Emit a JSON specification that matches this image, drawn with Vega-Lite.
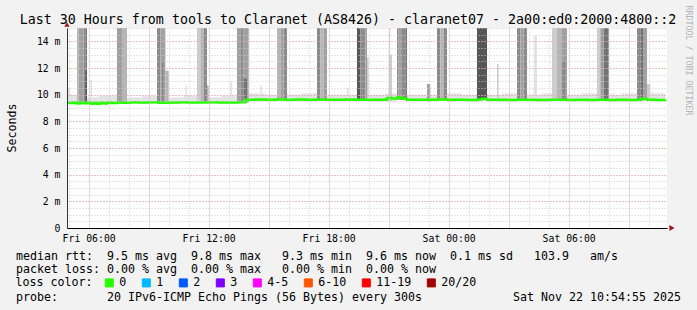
{
  "$schema": "https://vega.github.io/schema/vega-lite/v6.json",
  "width": 600,
  "height": 200,
  "autosize": {"type": "none"},
  "padding": {"left": 67, "top": 28, "right": 30, "bottom": 82},
  "background": "#f2f2f2",
  "config": {
    "view": {"stroke": null, "fill": "#ffffff"},
    "font": "DejaVu Sans Mono",
    "axis": {"labelFont": "DejaVu Sans Mono", "titleFont": "DejaVu Sans Mono", "labelColor": "#000000", "titleColor": "#000000", "titleFontWeight": "normal", "labelFontSize": 9.8}
  },
  "resolve": {"axis": {"x": "independent", "y": "independent"}},
  "datasets": {
    "smoke": [
      {"t0": "2025-11-21T04:55Z", "t1": "2025-11-21T05:25Z", "lo": 0.0093, "hi": 0.0100, "level": 1},
      {"t0": "2025-11-21T05:55Z", "t1": "2025-11-21T06:30Z", "lo": 0.0093, "hi": 0.0098, "level": 1},
      {"t0": "2025-11-21T06:30Z", "t1": "2025-11-21T07:25Z", "lo": 0.0093, "hi": 0.0099, "level": 1},
      {"t0": "2025-11-21T07:55Z", "t1": "2025-11-21T08:40Z", "lo": 0.0093, "hi": 0.0098, "level": 1},
      {"t0": "2025-11-21T08:40Z", "t1": "2025-11-21T09:25Z", "lo": 0.0093, "hi": 0.0099, "level": 1},
      {"t0": "2025-11-21T10:00Z", "t1": "2025-11-21T10:45Z", "lo": 0.0093, "hi": 0.0098, "level": 1},
      {"t0": "2025-11-21T10:45Z", "t1": "2025-11-21T11:25Z", "lo": 0.0093, "hi": 0.0099, "level": 1},
      {"t0": "2025-11-21T12:00Z", "t1": "2025-11-21T12:40Z", "lo": 0.0093, "hi": 0.0098, "level": 1},
      {"t0": "2025-11-21T12:40Z", "t1": "2025-11-21T13:25Z", "lo": 0.0093, "hi": 0.0099, "level": 1},
      {"t0": "2025-11-21T14:00Z", "t1": "2025-11-21T14:50Z", "lo": 0.0095, "hi": 0.0101, "level": 1},
      {"t0": "2025-11-21T14:50Z", "t1": "2025-11-21T15:25Z", "lo": 0.0095, "hi": 0.0100, "level": 1},
      {"t0": "2025-11-21T15:55Z", "t1": "2025-11-21T16:40Z", "lo": 0.0095, "hi": 0.0100, "level": 1},
      {"t0": "2025-11-21T16:40Z", "t1": "2025-11-21T17:25Z", "lo": 0.0095, "hi": 0.0101, "level": 1},
      {"t0": "2025-11-21T17:55Z", "t1": "2025-11-21T18:40Z", "lo": 0.0095, "hi": 0.0100, "level": 1},
      {"t0": "2025-11-21T18:40Z", "t1": "2025-11-21T19:25Z", "lo": 0.0095, "hi": 0.0100, "level": 1},
      {"t0": "2025-11-21T20:00Z", "t1": "2025-11-21T20:50Z", "lo": 0.0095, "hi": 0.0100, "level": 1},
      {"t0": "2025-11-21T20:50Z", "t1": "2025-11-21T21:25Z", "lo": 0.0095, "hi": 0.0101, "level": 1},
      {"t0": "2025-11-21T21:55Z", "t1": "2025-11-21T22:40Z", "lo": 0.0095, "hi": 0.0100, "level": 1},
      {"t0": "2025-11-21T22:40Z", "t1": "2025-11-21T23:25Z", "lo": 0.0095, "hi": 0.0100, "level": 1},
      {"t0": "2025-11-21T23:55Z", "t1": "2025-11-22T00:40Z", "lo": 0.0095, "hi": 0.0101, "level": 1},
      {"t0": "2025-11-22T00:40Z", "t1": "2025-11-22T01:25Z", "lo": 0.0095, "hi": 0.0100, "level": 1},
      {"t0": "2025-11-22T01:55Z", "t1": "2025-11-22T02:40Z", "lo": 0.0095, "hi": 0.0100, "level": 1},
      {"t0": "2025-11-22T02:40Z", "t1": "2025-11-22T03:25Z", "lo": 0.0095, "hi": 0.0101, "level": 1},
      {"t0": "2025-11-22T03:55Z", "t1": "2025-11-22T04:40Z", "lo": 0.0095, "hi": 0.0100, "level": 1},
      {"t0": "2025-11-22T04:40Z", "t1": "2025-11-22T05:10Z", "lo": 0.0095, "hi": 0.0101, "level": 1},
      {"t0": "2025-11-22T05:55Z", "t1": "2025-11-22T06:40Z", "lo": 0.0095, "hi": 0.0100, "level": 1},
      {"t0": "2025-11-22T06:40Z", "t1": "2025-11-22T07:25Z", "lo": 0.0095, "hi": 0.0101, "level": 1},
      {"t0": "2025-11-22T08:00Z", "t1": "2025-11-22T08:40Z", "lo": 0.0095, "hi": 0.0100, "level": 1},
      {"t0": "2025-11-22T08:40Z", "t1": "2025-11-22T09:25Z", "lo": 0.0095, "hi": 0.0101, "level": 1},
      {"t0": "2025-11-22T10:05Z", "t1": "2025-11-22T10:50Z", "lo": 0.0095, "hi": 0.0101, "level": 1},
      {"t0": "2025-11-21T04:55Z", "t1": "2025-11-21T05:05Z", "lo": 0.0093, "hi": 0.0105, "level": 1},
      {"t0": "2025-11-21T06:05Z", "t1": "2025-11-21T06:10Z", "lo": 0.0093, "hi": 0.0111, "level": 1},
      {"t0": "2025-11-21T10:50Z", "t1": "2025-11-21T10:55Z", "lo": 0.0093, "hi": 0.0107, "level": 1},
      {"t0": "2025-11-21T13:05Z", "t1": "2025-11-21T13:10Z", "lo": 0.0093, "hi": 0.0110, "level": 1},
      {"t0": "2025-11-21T14:35Z", "t1": "2025-11-21T14:40Z", "lo": 0.0095, "hi": 0.0107, "level": 1},
      {"t0": "2025-11-21T18:55Z", "t1": "2025-11-21T19:00Z", "lo": 0.0095, "hi": 0.0105, "level": 1},
      {"t0": "2025-11-21T19:55Z", "t1": "2025-11-21T20:00Z", "lo": 0.0095, "hi": 0.0128, "level": 2},
      {"t0": "2025-11-21T21:00Z", "t1": "2025-11-21T21:10Z", "lo": 0.0095, "hi": 0.0130, "level": 2},
      {"t0": "2025-11-21T21:00Z", "t1": "2025-11-21T21:05Z", "lo": 0.0130, "hi": 0.0150, "level": 1},
      {"t0": "2025-11-21T22:55Z", "t1": "2025-11-21T23:05Z", "lo": 0.0095, "hi": 0.0108, "level": 4},
      {"t0": "2025-11-22T02:25Z", "t1": "2025-11-22T02:30Z", "lo": 0.0095, "hi": 0.0123, "level": 2},
      {"t0": "2025-11-22T04:15Z", "t1": "2025-11-22T04:25Z", "lo": 0.0095, "hi": 0.0144, "level": 1},
      {"t0": "2025-11-22T06:50Z", "t1": "2025-11-22T06:55Z", "lo": 0.0095, "hi": 0.0101, "level": 1},
      {"t0": "2025-11-22T08:10Z", "t1": "2025-11-22T08:15Z", "lo": 0.0095, "hi": 0.0101, "level": 1},
      {"t0": "2025-11-22T10:10Z", "t1": "2025-11-22T10:15Z", "lo": 0.0095, "hi": 0.0102, "level": 1},
      {"t0": "2025-11-21T05:25Z", "t1": "2025-11-21T05:30Z", "lo": 0.0094, "hi": 0.015, "level": 3},
      {"t0": "2025-11-21T05:30Z", "t1": "2025-11-21T05:45Z", "lo": 0.0094, "hi": 0.015, "level": 4},
      {"t0": "2025-11-21T05:45Z", "t1": "2025-11-21T05:50Z", "lo": 0.0094, "hi": 0.015, "level": 5},
      {"t0": "2025-11-21T05:50Z", "t1": "2025-11-21T05:55Z", "lo": 0.0094, "hi": 0.015, "level": 6},
      {"t0": "2025-11-21T05:50Z", "t1": "2025-11-21T05:55Z", "lo": 0.0094, "hi": 0.0118, "level": 7},
      {"t0": "2025-11-21T07:25Z", "t1": "2025-11-21T07:40Z", "lo": 0.0094, "hi": 0.015, "level": 4},
      {"t0": "2025-11-21T07:40Z", "t1": "2025-11-21T07:55Z", "lo": 0.0094, "hi": 0.015, "level": 3},
      {"t0": "2025-11-21T09:25Z", "t1": "2025-11-21T09:35Z", "lo": 0.0094, "hi": 0.015, "level": 5},
      {"t0": "2025-11-21T09:35Z", "t1": "2025-11-21T09:50Z", "lo": 0.0094, "hi": 0.015, "level": 4},
      {"t0": "2025-11-21T09:40Z", "t1": "2025-11-21T09:45Z", "lo": 0.0094, "hi": 0.0125, "level": 5},
      {"t0": "2025-11-21T09:50Z", "t1": "2025-11-21T10:00Z", "lo": 0.0094, "hi": 0.0118, "level": 3},
      {"t0": "2025-11-21T11:25Z", "t1": "2025-11-21T11:35Z", "lo": 0.0094, "hi": 0.015, "level": 2},
      {"t0": "2025-11-21T11:35Z", "t1": "2025-11-21T11:45Z", "lo": 0.0094, "hi": 0.015, "level": 3},
      {"t0": "2025-11-21T11:45Z", "t1": "2025-11-21T11:55Z", "lo": 0.0094, "hi": 0.015, "level": 5},
      {"t0": "2025-11-21T11:55Z", "t1": "2025-11-21T12:00Z", "lo": 0.0094, "hi": 0.0107, "level": 3},
      {"t0": "2025-11-21T13:25Z", "t1": "2025-11-21T13:35Z", "lo": 0.0094, "hi": 0.015, "level": 4},
      {"t0": "2025-11-21T13:35Z", "t1": "2025-11-21T13:45Z", "lo": 0.0094, "hi": 0.015, "level": 5},
      {"t0": "2025-11-21T13:45Z", "t1": "2025-11-21T14:00Z", "lo": 0.0094, "hi": 0.015, "level": 4},
      {"t0": "2025-11-21T13:45Z", "t1": "2025-11-21T13:55Z", "lo": 0.0096, "hi": 0.0112, "level": 6},
      {"t0": "2025-11-21T15:25Z", "t1": "2025-11-21T15:35Z", "lo": 0.0096, "hi": 0.015, "level": 3},
      {"t0": "2025-11-21T15:35Z", "t1": "2025-11-21T15:45Z", "lo": 0.0096, "hi": 0.015, "level": 4},
      {"t0": "2025-11-21T15:45Z", "t1": "2025-11-21T15:55Z", "lo": 0.0096, "hi": 0.015, "level": 5},
      {"t0": "2025-11-21T17:25Z", "t1": "2025-11-21T17:35Z", "lo": 0.0096, "hi": 0.015, "level": 5},
      {"t0": "2025-11-21T17:35Z", "t1": "2025-11-21T17:45Z", "lo": 0.0096, "hi": 0.015, "level": 3},
      {"t0": "2025-11-21T17:45Z", "t1": "2025-11-21T17:55Z", "lo": 0.0096, "hi": 0.015, "level": 4},
      {"t0": "2025-11-21T19:25Z", "t1": "2025-11-21T19:35Z", "lo": 0.0096, "hi": 0.015, "level": 7},
      {"t0": "2025-11-21T19:35Z", "t1": "2025-11-21T19:50Z", "lo": 0.0096, "hi": 0.015, "level": 5},
      {"t0": "2025-11-21T19:50Z", "t1": "2025-11-21T19:55Z", "lo": 0.0096, "hi": 0.015, "level": 4},
      {"t0": "2025-11-21T21:25Z", "t1": "2025-11-21T21:30Z", "lo": 0.0096, "hi": 0.015, "level": 5},
      {"t0": "2025-11-21T21:30Z", "t1": "2025-11-21T21:40Z", "lo": 0.0096, "hi": 0.015, "level": 4},
      {"t0": "2025-11-21T21:40Z", "t1": "2025-11-21T21:50Z", "lo": 0.0096, "hi": 0.015, "level": 5},
      {"t0": "2025-11-21T21:50Z", "t1": "2025-11-21T21:55Z", "lo": 0.0096, "hi": 0.015, "level": 6},
      {"t0": "2025-11-21T23:25Z", "t1": "2025-11-21T23:35Z", "lo": 0.0096, "hi": 0.015, "level": 5},
      {"t0": "2025-11-21T23:35Z", "t1": "2025-11-21T23:45Z", "lo": 0.0096, "hi": 0.015, "level": 3},
      {"t0": "2025-11-21T23:45Z", "t1": "2025-11-21T23:55Z", "lo": 0.0096, "hi": 0.015, "level": 5},
      {"t0": "2025-11-22T01:25Z", "t1": "2025-11-22T01:55Z", "lo": 0.0096, "hi": 0.015, "level": 7},
      {"t0": "2025-11-22T03:25Z", "t1": "2025-11-22T03:35Z", "lo": 0.0096, "hi": 0.015, "level": 5},
      {"t0": "2025-11-22T03:35Z", "t1": "2025-11-22T03:45Z", "lo": 0.0096, "hi": 0.015, "level": 4},
      {"t0": "2025-11-22T03:45Z", "t1": "2025-11-22T03:55Z", "lo": 0.0096, "hi": 0.015, "level": 5},
      {"t0": "2025-11-22T05:10Z", "t1": "2025-11-22T05:25Z", "lo": 0.0096, "hi": 0.015, "level": 2},
      {"t0": "2025-11-22T05:25Z", "t1": "2025-11-22T05:40Z", "lo": 0.0096, "hi": 0.015, "level": 3},
      {"t0": "2025-11-22T05:40Z", "t1": "2025-11-22T05:55Z", "lo": 0.0096, "hi": 0.015, "level": 4},
      {"t0": "2025-11-22T05:40Z", "t1": "2025-11-22T05:50Z", "lo": 0.0096, "hi": 0.0125, "level": 5},
      {"t0": "2025-11-22T07:25Z", "t1": "2025-11-22T07:35Z", "lo": 0.0096, "hi": 0.015, "level": 2},
      {"t0": "2025-11-22T07:35Z", "t1": "2025-11-22T07:45Z", "lo": 0.0096, "hi": 0.015, "level": 4},
      {"t0": "2025-11-22T07:45Z", "t1": "2025-11-22T08:00Z", "lo": 0.0096, "hi": 0.015, "level": 6},
      {"t0": "2025-11-22T09:25Z", "t1": "2025-11-22T09:35Z", "lo": 0.0096, "hi": 0.015, "level": 5},
      {"t0": "2025-11-22T09:35Z", "t1": "2025-11-22T09:45Z", "lo": 0.0096, "hi": 0.015, "level": 6},
      {"t0": "2025-11-22T09:45Z", "t1": "2025-11-22T09:55Z", "lo": 0.0096, "hi": 0.015, "level": 4},
      {"t0": "2025-11-22T09:55Z", "t1": "2025-11-22T10:05Z", "lo": 0.0096, "hi": 0.0108, "level": 2}
    ],
    "median": [
      {"t": "2025-11-21T04:55Z", "rtt": 0.00940, "loss": "0"},
      {"t": "2025-11-21T05:05Z", "rtt": 0.00938, "loss": "0"},
      {"t": "2025-11-21T05:15Z", "rtt": 0.00942, "loss": "0"},
      {"t": "2025-11-21T05:25Z", "rtt": 0.00934, "loss": "0"},
      {"t": "2025-11-21T05:35Z", "rtt": 0.00941, "loss": "0"},
      {"t": "2025-11-21T05:45Z", "rtt": 0.00936, "loss": "0"},
      {"t": "2025-11-21T05:55Z", "rtt": 0.00941, "loss": "0"},
      {"t": "2025-11-21T06:05Z", "rtt": 0.00932, "loss": "0"},
      {"t": "2025-11-21T06:15Z", "rtt": 0.00938, "loss": "0"},
      {"t": "2025-11-21T06:25Z", "rtt": 0.00931, "loss": "0"},
      {"t": "2025-11-21T06:35Z", "rtt": 0.00940, "loss": "0"},
      {"t": "2025-11-21T06:45Z", "rtt": 0.00934, "loss": "0"},
      {"t": "2025-11-21T06:55Z", "rtt": 0.00941, "loss": "0"},
      {"t": "2025-11-21T07:10Z", "rtt": 0.00938, "loss": "0"},
      {"t": "2025-11-21T07:25Z", "rtt": 0.00942, "loss": "0"},
      {"t": "2025-11-21T07:45Z", "rtt": 0.00940, "loss": "0"},
      {"t": "2025-11-21T08:05Z", "rtt": 0.00943, "loss": "0"},
      {"t": "2025-11-21T08:30Z", "rtt": 0.00941, "loss": "0"},
      {"t": "2025-11-21T09:00Z", "rtt": 0.00943, "loss": "0"},
      {"t": "2025-11-21T09:30Z", "rtt": 0.00940, "loss": "0"},
      {"t": "2025-11-21T10:00Z", "rtt": 0.00942, "loss": "0"},
      {"t": "2025-11-21T10:30Z", "rtt": 0.00944, "loss": "0"},
      {"t": "2025-11-21T11:00Z", "rtt": 0.00942, "loss": "0"},
      {"t": "2025-11-21T11:30Z", "rtt": 0.00941, "loss": "0"},
      {"t": "2025-11-21T12:00Z", "rtt": 0.00943, "loss": "0"},
      {"t": "2025-11-21T12:30Z", "rtt": 0.00942, "loss": "0"},
      {"t": "2025-11-21T13:00Z", "rtt": 0.00941, "loss": "0"},
      {"t": "2025-11-21T13:30Z", "rtt": 0.00943, "loss": "0"},
      {"t": "2025-11-21T13:50Z", "rtt": 0.00962, "loss": "0"},
      {"t": "2025-11-21T14:20Z", "rtt": 0.00963, "loss": "0"},
      {"t": "2025-11-21T14:50Z", "rtt": 0.00961, "loss": "0"},
      {"t": "2025-11-21T15:20Z", "rtt": 0.00963, "loss": "0"},
      {"t": "2025-11-21T15:50Z", "rtt": 0.00962, "loss": "0"},
      {"t": "2025-11-21T16:20Z", "rtt": 0.00964, "loss": "0"},
      {"t": "2025-11-21T16:50Z", "rtt": 0.00962, "loss": "0"},
      {"t": "2025-11-21T17:20Z", "rtt": 0.00963, "loss": "0"},
      {"t": "2025-11-21T17:50Z", "rtt": 0.00961, "loss": "0"},
      {"t": "2025-11-21T18:20Z", "rtt": 0.00962, "loss": "0"},
      {"t": "2025-11-21T18:50Z", "rtt": 0.00963, "loss": "0"},
      {"t": "2025-11-21T19:20Z", "rtt": 0.00961, "loss": "0"},
      {"t": "2025-11-21T19:50Z", "rtt": 0.00962, "loss": "0"},
      {"t": "2025-11-21T20:20Z", "rtt": 0.00961, "loss": "0"},
      {"t": "2025-11-21T20:55Z", "rtt": 0.00975, "loss": "0"},
      {"t": "2025-11-21T21:10Z", "rtt": 0.00971, "loss": "0"},
      {"t": "2025-11-21T21:25Z", "rtt": 0.00978, "loss": "0"},
      {"t": "2025-11-21T21:40Z", "rtt": 0.00970, "loss": "0"},
      {"t": "2025-11-21T21:55Z", "rtt": 0.00962, "loss": "0"},
      {"t": "2025-11-21T22:25Z", "rtt": 0.00961, "loss": "0"},
      {"t": "2025-11-21T22:55Z", "rtt": 0.00962, "loss": "0"},
      {"t": "2025-11-21T23:25Z", "rtt": 0.00963, "loss": "0"},
      {"t": "2025-11-21T23:55Z", "rtt": 0.00961, "loss": "0"},
      {"t": "2025-11-22T00:25Z", "rtt": 0.00962, "loss": "0"},
      {"t": "2025-11-22T00:55Z", "rtt": 0.00960, "loss": "0"},
      {"t": "2025-11-22T01:25Z", "rtt": 0.00963, "loss": "0"},
      {"t": "2025-11-22T01:40Z", "rtt": 0.00970, "loss": "0"},
      {"t": "2025-11-22T01:55Z", "rtt": 0.00962, "loss": "0"},
      {"t": "2025-11-22T02:25Z", "rtt": 0.00961, "loss": "0"},
      {"t": "2025-11-22T02:55Z", "rtt": 0.00960, "loss": "0"},
      {"t": "2025-11-22T03:25Z", "rtt": 0.00962, "loss": "0"},
      {"t": "2025-11-22T03:55Z", "rtt": 0.00961, "loss": "0"},
      {"t": "2025-11-22T04:25Z", "rtt": 0.00960, "loss": "0"},
      {"t": "2025-11-22T04:55Z", "rtt": 0.00961, "loss": "0"},
      {"t": "2025-11-22T05:25Z", "rtt": 0.00962, "loss": "0"},
      {"t": "2025-11-22T05:55Z", "rtt": 0.00960, "loss": "0"},
      {"t": "2025-11-22T06:25Z", "rtt": 0.00961, "loss": "0"},
      {"t": "2025-11-22T06:55Z", "rtt": 0.00960, "loss": "0"},
      {"t": "2025-11-22T07:25Z", "rtt": 0.00962, "loss": "0"},
      {"t": "2025-11-22T07:55Z", "rtt": 0.00960, "loss": "0"},
      {"t": "2025-11-22T08:25Z", "rtt": 0.00961, "loss": "0"},
      {"t": "2025-11-22T08:55Z", "rtt": 0.00960, "loss": "0"},
      {"t": "2025-11-22T09:25Z", "rtt": 0.00961, "loss": "0"},
      {"t": "2025-11-22T09:40Z", "rtt": 0.00970, "loss": "0"},
      {"t": "2025-11-22T09:55Z", "rtt": 0.00961, "loss": "0"},
      {"t": "2025-11-22T10:25Z", "rtt": 0.00960, "loss": "0"},
      {"t": "2025-11-22T10:50Z", "rtt": 0.00961, "loss": "0"}
    ]
  },
  "layer": [
    {
      "data": {"name": "smoke", "format": {"parse": {"t0": "date", "t1": "date"}}},
      "mark": {"type": "rect"},
      "encoding": {
        "x": {
          "field": "t0", "type": "temporal",
          "scale": {"type": "utc", "nice": false, "domain": [1763700900000, 1763808900000]},
          "axis": {"orient": "top", "grid": true, "gridColor": "#cccccc", "gridDash": [1, 2],
            "values": [1763701200000, 1763704800000, 1763708400000, 1763712000000, 1763715600000, 1763719200000, 1763722800000, 1763726400000, 1763730000000, 1763733600000, 1763737200000, 1763740800000, 1763744400000, 1763748000000, 1763751600000, 1763755200000, 1763758800000, 1763762400000, 1763766000000, 1763769600000, 1763773200000, 1763776800000, 1763780400000, 1763784000000, 1763787600000, 1763791200000, 1763794800000, 1763798400000, 1763802000000, 1763805600000],
            "labels": false, "ticks": false, "domain": false, "zindex": 1,
            "title": "Last 30 Hours from tools to Claranet (AS8426) - claranet07 - 2a00:ed0:2000:4800::2",
            "titleFontSize": 13.3, "titleX": 280.5, "titleY": -4.5, "titleAlign": "center", "titleBaseline": "alphabetic", "titleAngle": 0}
        },
        "x2": {"field": "t1"},
        "y": {
          "field": "lo", "type": "quantitative",
          "scale": {"domain": [0, 0.015], "nice": false, "zero": true},
          "axis": {"orient": "left", "grid": true, "gridColor": "#cccccc", "gridDash": [1, 2],
            "values": [0.0005, 0.001, 0.0015, 0.002, 0.0025, 0.003, 0.0035, 0.004, 0.0045, 0.005, 0.0055, 0.006, 0.0065, 0.007, 0.0075, 0.008, 0.0085, 0.009, 0.0095, 0.01, 0.0105, 0.011, 0.0115, 0.012, 0.0125, 0.013, 0.0135, 0.014, 0.0145, 0.015],
            "labels": false, "ticks": false, "domain": false, "title": null, "zindex": 1}
        },
        "y2": {"field": "hi"},
        "fill": {"field": "level", "type": "ordinal", "scale": {"domain": [1, 2, 3, 4, 5, 6, 7], "range": ["#e3e3e3", "#cdcdcd", "#b5b5b5", "#a0a0a0", "#8b8b8b", "#737373", "#565656"]}, "legend": null}
      }
    },
    {
      "data": {"name": "median", "format": {"parse": {"t": "date"}}},
      "mark": {"type": "line", "strokeWidth": 2.5, "interpolate": "step-after"},
      "encoding": {
        "x": {
          "field": "t", "type": "temporal",
          "scale": {"type": "utc", "nice": false, "domain": [1763700900000, 1763808900000]},
          "axis": {"orient": "bottom", "grid": true, "gridColor": "#e6a3a3", "gridDash": [1, 2],
            "values": [1763704800000, 1763715600000, 1763726400000, 1763737200000, 1763748000000, 1763758800000, 1763769600000, 1763780400000, 1763791200000, 1763802000000],
            "labels": false, "ticks": false, "domain": false, "zindex": 1,
            "title": ["median rtt:\u00a0\u00a09.5 ms avg\u00a0\u00a09.8 ms max\u00a0\u00a0\u00a09.3 ms min\u00a0\u00a09.6 ms now\u00a0\u00a00.1 ms sd\u00a0\u00a0\u00a0103.9\u00a0\u00a0\u00a0am/s",
                      "packet loss: 0.00 % avg\u00a0\u00a00.00 % max\u00a0\u00a0\u00a00.00 % min\u00a0\u00a00.00 % now"],
            "titleFontSize": 11.63, "titleX": -51.5, "titleY": 31, "titleAlign": "left", "titleBaseline": "alphabetic", "titleLineHeight": 13.67, "titleAngle": 0}
        },
        "y": {
          "field": "rtt", "type": "quantitative",
          "scale": {"domain": [0, 0.015], "nice": false, "zero": true},
          "axis": {"orient": "left", "grid": true, "gridColor": "#e6a3a3", "gridDash": [1, 2],
            "values": [0, 0.002, 0.004, 0.006, 0.008, 0.01, 0.012, 0.014],
            "labelExpr": "datum.value == 0 ? '0' : format(datum.value * 1000, 'd') + ' m'",
            "labelFontSize": 9.8, "labelPadding": 7, "ticks": false, "domain": true, "domainColor": "#333333", "zindex": 1,
            "title": "Seconds", "titleFontSize": 11.63, "titleX": -52, "titleY": 99.5, "titleAngle": 270, "titleAlign": "center", "titleBaseline": "alphabetic"}
        },
        "color": {
          "field": "loss", "type": "nominal",
          "scale": {"domain": ["0", "1", "2", "3", "4-5", "6-10", "11-19", "20/20"], "range": ["#26ff00", "#00b8ff", "#0059ff", "#7e00ff", "#ff00ff", "#ff5500", "#ff0000", "#a10000"]},
          "legend": {
            "orient": "none", "legendX": -51.5, "legendY": 249, "direction": "horizontal", "padding": 0,
            "title": "loss color:", "titleOrient": "left", "titleFont": "DejaVu Sans Mono", "titleFontSize": 11.63, "titleFontWeight": "normal", "titleColor": "#000000", "titlePadding": 11, "titleBaseline": "middle",
            "labelFont": "DejaVu Sans Mono", "labelFontSize": 11.63, "labelColor": "#000000", "labelOffset": 4, "columnPadding": 13,
            "symbolType": "square", "symbolSize": 64, "symbolStrokeWidth": 1, "symbolStrokeColor": "#000000",
            "encode": {"symbols": {"update": {"fill": {"scale": "color", "field": "value"}, "stroke": {"value": "#000000"}, "strokeWidth": {"value": 1}, "opacity": {"value": 1}}}}
          }
        }
      }
    },
    {
      "data": {"values": [{}]},
      "mark": {"type": "point", "shape": "triangle-right", "filled": true, "color": "#a01c1c", "size": 36, "xOffset": 5, "opacity": 1},
      "encoding": {
        "x": {
          "datum": 1763808900000, "type": "temporal",
          "scale": {"type": "utc", "nice": false, "domain": [1763700900000, 1763808900000]},
          "axis": {"orient": "bottom", "grid": false,
            "values": [1763704800000, 1763726400000, 1763748000000, 1763769600000, 1763791200000],
            "labelExpr": "utcFormat(datum.value, '%a %H:%M')", "labelFontSize": 9.8, "labelBaseline": "alphabetic", "labelPadding": 13, "ticks": false, "domain": true, "domainColor": "#000000", "title": null, "zindex": 1}
        },
        "y": {
          "datum": 0, "type": "quantitative",
          "scale": {"domain": [0, 0.015], "nice": false, "zero": true},
          "axis": {"orient": "right", "labels": false, "ticks": false, "domain": false, "grid": false,
            "title": "RRDTOOL / TOBI OETIKER", "titleFontSize": 8.3, "titleColor": "#b4b4b4", "titleAngle": 90, "titleX": 18, "titleY": -23, "titleAlign": "left", "titleBaseline": "alphabetic"}
        }
      }
    },
    {
      "data": {"values": [{}]},
      "mark": {"type": "point", "shape": "triangle-up", "filled": true, "color": "#a01c1c", "size": 30, "yOffset": -3.5, "opacity": 1},
      "encoding": {
        "x": {
          "datum": 1763700900000, "type": "temporal",
          "scale": {"type": "utc", "nice": false, "domain": [1763700900000, 1763808900000]},
          "axis": {"orient": "bottom", "grid": false, "labels": false, "ticks": false, "domain": false,
            "title": "probe:\u00a0\u00a0\u00a0\u00a0\u00a0\u00a0\u00a020 IPv6-ICMP Echo Pings (56 Bytes) every 300s\u00a0\u00a0\u00a0\u00a0\u00a0\u00a0\u00a0\u00a0\u00a0\u00a0\u00a0\u00a0\u00a0Sat Nov 22 10:54:55 2025",
            "titleFontSize": 11.63, "titleX": -51.5, "titleY": 72, "titleAlign": "left", "titleBaseline": "alphabetic", "titleAngle": 0}
        },
        "y": {
          "datum": 0.015, "type": "quantitative",
          "scale": {"domain": [0, 0.015], "nice": false, "zero": true},
          "axis": null
        }
      }
    }
  ]
}
